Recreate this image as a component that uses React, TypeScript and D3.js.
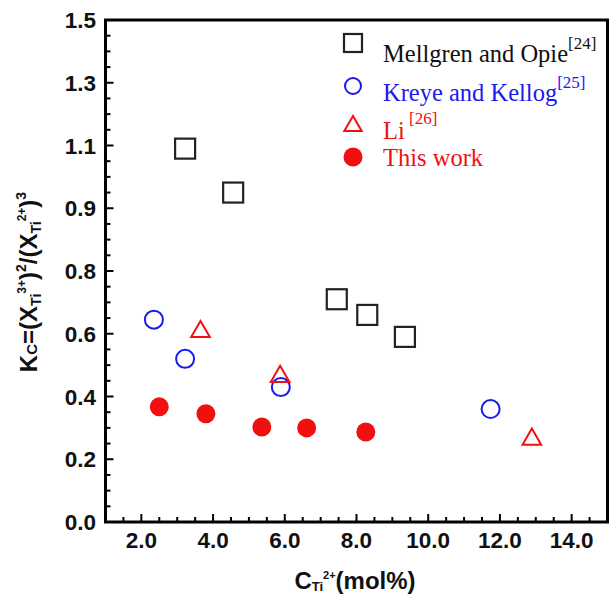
import React from 'react';
import * as d3 from 'd3';

// values (x in mol%, y in the axis' own units)
const mellgrenX = [3.22, 4.56, 7.45, 8.3, 9.35];
const mellgrenY = [1.09, 0.95, 0.71, 0.66, 0.59];
const kreyeX = [2.35, 3.22, 5.89, 11.74];
const kreyeY = [0.645, 0.52, 0.43, 0.36];
const liX = [3.65, 5.87, 12.89];
const liY = [0.613, 0.47, 0.27];
const thisWorkX = [2.5, 3.8, 5.36, 6.61, 8.26];
const thisWorkY = [0.367, 0.345, 0.303, 0.3, 0.287];

// the y axis labels as printed in the figure (evenly spaced)
const yTickValues = [0, 0.2, 0.4, 0.6, 0.8, 0.9, 1.1, 1.3, 1.5];
const yTickLabels = ['0.0', '0.2', '0.4', '0.6', '0.8', '0.9', '1.1', '1.3', '1.5'];
const xTickValues = [2, 4, 6, 8, 10, 12, 14];
const xTickLabels = ['2.0', '4.0', '6.0', '8.0', '10.0', '12.0', '14.0'];

const W = 610;
const H = 601;
const left = 105.5;
const right = 607.5;
const top = 20;
const bottom = 522;

const serif = '"Liberation Serif", "Times New Roman", serif';
const sans = '"Liberation Sans", Arial, sans-serif';

const App: React.FC = () => {
  const x = d3.scaleLinear().domain([1, 15]).range([left, right]);
  const step = (bottom - top) / (yTickValues.length - 1);
  const y = d3
    .scaleLinear()
    .domain(yTickValues)
    .range(yTickValues.map((_, i) => bottom - i * step));

  const xMinor = d3.range(1.5, 15, 0.5).filter((v) => v % 2 !== 0);
  const yMinor: number[] = [];
  for (let i = 0; i < yTickValues.length - 1; i++) {
    const a = yTickValues[i];
    const b = yTickValues[i + 1];
    for (let k = 1; k < 4; k++) yMinor.push(a + ((b - a) * k) / 4);
  }

  const sq = 20;
  const tri = d3.symbol(d3.symbolTriangle, 150)();

  return (
    <svg
      width={W}
      height={H}
      style={{ position: 'absolute', left: 0, top: 0, background: '#fff' }}
    >
      {/* ticks */}
      <g stroke="#000" strokeWidth={2}>
        {xTickValues.map((v) => (
          <line key={'xt' + v} x1={x(v)} x2={x(v)} y1={bottom} y2={bottom - 8} />
        ))}
        {xMinor.map((v) => (
          <line key={'xm' + v} x1={x(v)} x2={x(v)} y1={bottom} y2={bottom - 5} />
        ))}
        {yTickValues.map((v) => (
          <line key={'yt' + v} x1={left} x2={left + 8} y1={y(v)} y2={y(v)} />
        ))}
        {yMinor.map((v, i) => (
          <line key={'ym' + i} x1={left} x2={left + 5} y1={y(v)} y2={y(v)} />
        ))}
      </g>
      <rect
        x={left}
        y={top}
        width={right - left}
        height={bottom - top}
        fill="none"
        stroke="#000"
        strokeWidth={3}
      />

      {/* tick labels */}
      <g fontFamily={sans} fontWeight="bold" fontSize={22.5} fill="#111">
        {yTickValues.map((v, i) => (
          <text key={'yl' + v} x={96} y={y(v)} dy="0.36em" textAnchor="end">
            {yTickLabels[i]}
          </text>
        ))}
        {xTickValues.map((v, i) => (
          <text key={'xl' + v} x={x(v)} y={548} textAnchor="middle">
            {xTickLabels[i]}
          </text>
        ))}
      </g>

      {/* axis titles */}
      <text x={355} y={589} textAnchor="middle" fontFamily={sans} fontWeight="bold" fontSize={24} fill="#111">
        C
        <tspan fontSize={13} dy={2}>Ti</tspan>
        <tspan fontSize={11} dy={-12}>2+</tspan>
        <tspan dy={10}>(mol%)</tspan>
      </text>
      <text
        transform="translate(37,282) rotate(-90)"
        textAnchor="middle"
        fontFamily={sans}
        fontWeight="bold"
        fontSize={24}
        fill="#111"
      >
        K
        <tspan fontSize={15}>C</tspan>
        <tspan>=(X</tspan>
        <tspan fontSize={14} dy={4}>Ti</tspan>
        <tspan fontSize={12} dy={-15}>3+</tspan>
        <tspan dy={11}>)</tspan>
        <tspan fontSize={14} dy={-11}>2</tspan>
        <tspan dy={11}>/(X</tspan>
        <tspan fontSize={14} dy={4}>Ti</tspan>
        <tspan fontSize={12} dy={-15}>2+</tspan>
        <tspan dy={11}>)</tspan>
        <tspan fontSize={14} dy={-11}>3</tspan>
      </text>

      {/* data */}
      <g fill="none" stroke="#222" strokeWidth={2.2}>
        {mellgrenX.map((v, i) => (
          <rect key={'m' + i} x={x(v) - sq / 2} y={y(mellgrenY[i]) - sq / 2} width={sq} height={sq} />
        ))}
      </g>
      <g fill="none" stroke="#1a1aee" strokeWidth={2}>
        {kreyeX.map((v, i) => (
          <circle key={'k' + i} cx={x(v)} cy={y(kreyeY[i])} r={9} />
        ))}
      </g>
      <g fill="none" stroke="#f01010" strokeWidth={2}>
        {liX.map((v, i) => (
          <path key={'l' + i} d={tri ?? ''} transform={`translate(${x(v)},${y(liY[i]) + 2})`} />
        ))}
      </g>
      <g fill="#f01010">
        {thisWorkX.map((v, i) => (
          <circle key={'t' + i} cx={x(v)} cy={y(thisWorkY[i])} r={9.5} />
        ))}
      </g>

      {/* legend */}
      <g fontFamily={serif} fontSize={24.5}>
        <rect x={344} y={34} width={18} height={18} fill="none" stroke="#222" strokeWidth={2.2} />
        <text x={383} y={62} fill="#111">
          Mellgren and Opie
          <tspan fontSize={17} dy={-13}>[24]</tspan>
        </text>
        <circle cx={353} cy={86} r={8} fill="none" stroke="#1a1aee" strokeWidth={2} />
        <text x={383} y={101} fill="#1a1aee">
          Kreye and Kellog
          <tspan fontSize={17} dy={-13}>[25]</tspan>
        </text>
        <path d={d3.symbol(d3.symbolTriangle, 130)() ?? ''} transform="translate(353,126)" fill="none" stroke="#f01010" strokeWidth={2} />
        <text x={383} y={139} fill="#f01010">
          Li
          <tspan fontSize={17} dy={-15}> [26]</tspan>
        </text>
        <circle cx={353} cy={157} r={9.5} fill="#f01010" />
        <text x={383} y={166} fill="#f01010">
          This work
        </text>
      </g>
    </svg>
  );
};

export default App;
